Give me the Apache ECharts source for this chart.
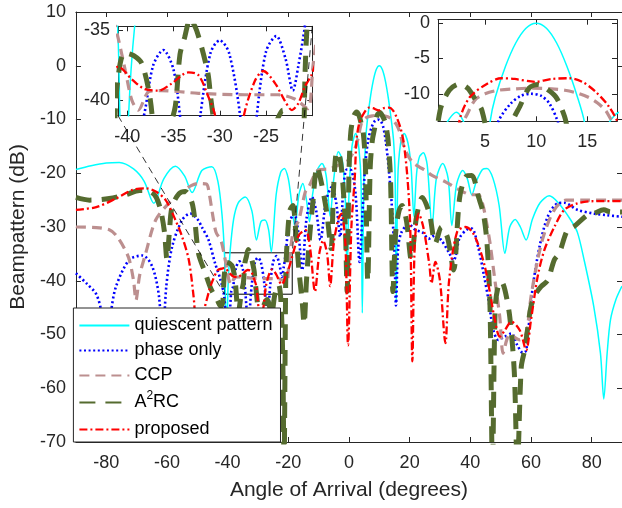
<!DOCTYPE html>
<html>
<head>
<meta charset="utf-8">
<script src="https://cdn.jsdelivr.net/npm/echarts@6/dist/echarts.min.js"></script>
<style>
html,body{margin:0;padding:0;background:#fff;}
#chart{width:622px;height:508px;}
</style>
</head>
<body>
<div id="chart"></div>
<script>
// ---------------- data ----------------
const seriesNames = ['quiescent pattern', 'phase only', 'CCP', 'A2RC', 'proposed'];
const mainXTicks = [-80, -60, -40, -20, 0, 20, 40, 60, 80];
const inset1XTicks = [-40, -35, -30, -25];
const inset1YTicks = [-40, -35];
const inset2XTicks = [5, 10, 15];
const inset2YTicks = [-10, -5, 0];

const quiescent = [[-90,-19.3],[-85,-18.6],[-80,-18.1],[-75.7,-18.0],[-71,-19.2],[-67.5,-21.5],[-64.3,-25.6],[-61,-21],[-57.2,-18.7],[-54.2,-20.5],[-51.7,-23.6],[-48.5,-19.5],[-45.2,-18.8],[-43.2,-21.5],[-41.8,-28],[-41,-35.5],[-40.8,-41],[-40.3,-52],[-39.85,-41],[-39.2,-34.7],[-38,-28.5],[-36.5,-25.5],[-34.2,-24.4],[-32,-27],[-30.5,-32.4],[-29,-29],[-27.7,-28.7],[-26.5,-30.5],[-25.6,-34.6],[-24,-24],[-22.5,-19.8],[-21.3,-19.1],[-20,-21],[-19,-25],[-17.8,-30],[-16.5,-24],[-15.2,-21.9],[-14,-25],[-13,-29],[-12,-24],[-10.5,-19.5],[-8.9,-18.2],[-7.5,-20.5],[-6.2,-28],[-5,-21],[-3.5,-16],[-2.2,-17.5],[-1.2,-25],[-0.6,-39],[0,-24],[1,-15],[2.2,-12.6],[3.3,-15.5],[4,-22],[4.4,-46],[4.9,-22],[5.5,-13.9],[6,-10.5],[7,-6.1],[8,-2.8],[9,-0.7],[10,0],[11,-0.7],[12,-2.8],[13,-6.1],[14,-10.3],[14.7,-13.9],[15.2,-20],[15.6,-44],[16.1,-21],[17,-14.5],[18.2,-12.6],[19.5,-14.5],[20.5,-19],[21.4,-28],[22.3,-20],[23.2,-17],[24.5,-16.2],[25.8,-18.5],[27.4,-30],[28.8,-21],[30.9,-18.2],[32.7,-21],[33.9,-29.7],[35.5,-22],[37.5,-19.5],[39,-21],[40.5,-24],[42,-21.5],[44,-19.3],[45.5,-19.1],[47.5,-21],[49.5,-26],[51.4,-34.9],[53,-30],[54.8,-28.6],[56.5,-30],[58.4,-32.4],[60.5,-28.5],[63,-25.5],[66,-24.2],[69,-25.5],[73.1,-28.7],[75.3,-31],[77.5,-36.1],[80.7,-44.8],[82.9,-53.5],[84,-62],[85.1,-53.5],[86.2,-47.3],[88,-43.5],[90,-41]];

const phaseOnly = [[-90,-38.6],[-86.5,-40.5],[-83.3,-42.5],[-81.5,-46],[-80,-52],[-78.5,-46],[-76.8,-41.1],[-72.4,-36.1],[-68,-35.3],[-64.8,-37.4],[-62.6,-43],[-61.5,-52],[-60.2,-41],[-58.3,-33.7],[-55,-28.7],[-52.3,-27.5],[-50,-28.5],[-48.5,-30],[-46.3,-32.4],[-44.1,-36.8],[-42.5,-39.5],[-41.1,-43],[-40,-52],[-38.8,-42],[-38.2,-41.1],[-37.2,-37.5],[-36.1,-36.4],[-35,-37.8],[-34.3,-41.1],[-33.2,-48],[-32.1,-41.1],[-31,-36.6],[-30,-35.7],[-29,-36.6],[-27.8,-41.1],[-26.9,-48],[-26,-41.1],[-25,-36.5],[-23.9,-35.4],[-22.9,-37],[-22.1,-39.3],[-21.5,-37.5],[-20.8,-34.7],[-19.8,-29.5],[-18.1,-27.5],[-16.7,-31],[-15.4,-38],[-14,-28.5],[-12.2,-24.4],[-10.8,-27],[-9.4,-32.4],[-7.5,-25],[-5.6,-22.5],[-4.2,-25.5],[-2.9,-31.8],[-1.8,-22.5],[-0.7,-19.3],[0.8,-19.5],[2.2,-24],[3.5,-36.5],[4.5,-27],[5.3,-19],[6.3,-13.9],[7.5,-11.4],[8.5,-10.3],[9.5,-10],[10.5,-10.3],[11.3,-11.4],[12.1,-13.9],[13,-18.5],[14,-25],[15,-35],[15.5,-44.6],[16.2,-34],[17.3,-31],[19.8,-29.5],[21.8,-30.5],[24.2,-31],[26.3,-32.2],[28.5,-31.5],[30.5,-32.5],[32.9,-34.7],[34.5,-36.2],[36.5,-32],[38.8,-30.5],[40.5,-30.3],[42.7,-34],[44.5,-39],[46,-43.6],[47.6,-49.2],[49.2,-51],[51,-50.5],[53.5,-49.8],[55.5,-52],[57.3,-53.4],[58.4,-53],[59.5,-47],[60.6,-41.1],[62.8,-33.7],[65.5,-28.1],[68.8,-25.6],[71,-25.5],[75.3,-26.8],[80.7,-27.5],[85,-27.8],[90,-28.1]];

const ccp = [[-90,-30],[-83.3,-30.1],[-79,-30.5],[-76.8,-31.5],[-74,-34],[-72.4,-36.1],[-71,-40],[-70.2,-43.6],[-69,-39],[-67,-34.9],[-63.7,-28.7],[-59.4,-25.6],[-55,-23.5],[-52,-22.3],[-49.6,-21.9],[-47,-22],[-46,-24],[-45,-27.5],[-43.8,-31],[-42.2,-32.5],[-41,-35.5],[-40.2,-37.9],[-39.5,-40],[-38.8,-40.7],[-37.7,-39.4],[-36.3,-39.3],[-32.3,-39.5],[-27.3,-39.6],[-23.7,-39.6],[-21.9,-39.9],[-20.5,-40.6],[-19.9,-37.4],[-18.7,-31.8],[-17.7,-30],[-16.5,-28.7],[-14.4,-23.5],[-13.2,-22.5],[-10.1,-19.4],[-6.7,-19.2],[-4.6,-18.8],[-2.4,-18.2],[-0.3,-17.6],[1.5,-16],[2.9,-13.8],[4,-10.9],[5,-10],[6.3,-9.5],[8,-9.3],[9.6,-9.2],[11.5,-9.3],[12.8,-9.5],[14,-9.9],[15.1,-10.5],[16,-11.3],[16.8,-12.4],[17.4,-13.8],[18.8,-16],[21,-18],[23.1,-18.8],[25.3,-19.5],[27.4,-20.4],[31.8,-21.6],[36.1,-23],[40.5,-24],[42.7,-24],[43.7,-25],[44.8,-27.5],[46.5,-33],[48.1,-39.9],[49.7,-46.7],[50.8,-53.5],[52,-51],[53,-49.8],[54.5,-50.5],[56.3,-51],[58.4,-49.8],[60,-43],[62.2,-36.1],[64.4,-31.2],[67.7,-26.8],[71.5,-25],[78.5,-25],[89,-25],[90,-25]];

const a2rc = [[-90,-24.5],[-85.5,-25],[-79,-24.7],[-73.5,-24],[-69,-23.2],[-65.5,-23.4],[-63.5,-24.5],[-62,-27],[-60.8,-31],[-60,-36],[-59.2,-31],[-58.3,-26.2],[-56,-23.8],[-53.9,-23.4],[-51.5,-26],[-49.6,-34.9],[-47.4,-38.5],[-45.5,-41.5],[-43.5,-43.5],[-42.2,-44.8],[-41.6,-44],[-41.1,-39],[-40.3,-36.6],[-39.3,-36.8],[-38.4,-37.4],[-37.5,-40],[-36.5,-46],[-35.4,-42],[-34.8,-40.4],[-34.3,-36.7],[-33.8,-35.5],[-33.2,-34.2],[-32.5,-35],[-31.3,-38],[-31,-39.7],[-30.2,-44],[-29.5,-50],[-28.3,-45],[-27,-43.5],[-25.5,-46],[-24.4,-42.5],[-23.2,-40.7],[-22.4,-44],[-21.8,-55],[-21.4,-75],[-21,-50],[-20.8,-38.5],[-20.4,-33],[-19.5,-27],[-18.5,-26],[-17.5,-31],[-16.5,-38],[-15.4,-44],[-14.8,-48],[-14,-40],[-13,-32],[-12,-26],[-10.5,-18.8],[-9,-22],[-7.3,-27.4],[-5.9,-34],[-5,-22],[-4,-16],[-3,-17],[-2,-22],[-1.2,-30],[-0.6,-42],[0,-20],[0.6,-12.4],[1.5,-9.5],[2.5,-8.6],[3.3,-9.2],[4,-10.7],[4.7,-12.4],[5.4,-18],[6.2,-40],[7,-19],[7.7,-13.9],[8.4,-11.8],[9.3,-9.2],[10.2,-8.7],[11,-9.3],[11.9,-10.4],[12.4,-11.8],[12.9,-13.9],[13.7,-21],[14.5,-42],[15.4,-31],[16.5,-27],[17.5,-26],[19,-29],[20.5,-36],[22.3,-28],[24.2,-24.5],[26.5,-27.5],[28.5,-33],[30.5,-30],[32.5,-32],[34.5,-38],[36.5,-24.5],[38.8,-20.5],[40.5,-20.4],[42.7,-24.4],[44.3,-27.5],[45.5,-33],[46.5,-45],[47.3,-75],[48.2,-45],[49.2,-41],[50.3,-40.2],[51.4,-41.7],[53,-46.7],[54.5,-57],[55.5,-75],[56.8,-56],[57.9,-52.9],[59,-48.5],[60,-44.8],[61.5,-42.5],[63.3,-41.1],[65.5,-39.9],[67.7,-36.1],[69.3,-34.9],[72,-30.6],[74.2,-29.9],[78.5,-27.8],[80.7,-27.5],[84,-26.8],[86.2,-27.2],[90,-27.2]];

const proposed = [[-90,-26.8],[-83.3,-26.3],[-76.8,-24.7],[-71.3,-23.1],[-67,-22.8],[-63.7,-23.4],[-60.4,-25],[-57.2,-28.7],[-55,-31.8],[-52.8,-36.1],[-51.2,-43],[-50,-50],[-48.5,-47],[-46,-41.7],[-44.9,-39.9],[-43.2,-38],[-41.6,-37.7],[-41,-37.6],[-39.5,-38.5],[-38.1,-39.2],[-36.6,-39.3],[-35.2,-38.8],[-33.4,-38],[-32.3,-38.2],[-31.2,-39.8],[-30.5,-41.1],[-29.8,-45],[-29,-47],[-28.2,-45],[-27.4,-41.1],[-26.2,-38.6],[-25.3,-37.9],[-24,-38.8],[-23,-40],[-22.2,-40.7],[-21.5,-40.2],[-20.8,-39],[-20.1,-38.2],[-18.7,-35.5],[-16.5,-31.5],[-14.3,-30.6],[-12.8,-34],[-11.2,-42],[-9.8,-35],[-8.5,-32.5],[-7.2,-35],[-6.2,-41],[-5,-33],[-3.5,-28.5],[-2.5,-27.5],[-1.2,-33],[-0.3,-52],[0.8,-30],[1.9,-21],[2.5,-13.8],[3.5,-10.5],[5.3,-8.5],[6.6,-7.8],[7.9,-7.9],[9.9,-8.3],[11.5,-7.9],[13.2,-7.8],[14.5,-8.3],[15.8,-9.7],[17.1,-11.8],[18.1,-14.5],[19.3,-21],[20.2,-30],[20.9,-55],[21.7,-33],[23,-27.5],[24.5,-30],[26.5,-37],[27.2,-40.5],[28.5,-36.5],[30,-40],[31.8,-51.6],[33,-40],[35.6,-31],[38.3,-30],[40.5,-30.8],[42.7,-33.4],[44.8,-37.4],[46.5,-42.3],[48.1,-47.3],[49.7,-50.4],[51.4,-49.2],[53.5,-47.6],[56.3,-49.2],[58.4,-52.9],[60,-47.3],[62.2,-39.2],[64.4,-34.3],[67.7,-30],[71,-26.8],[75.3,-25.6],[80.7,-25.2],[90,-25.2]];

// zoom window shown by the left inset (drawn as a box on the main axes)
const zoomBoxAngle = [-41, -18.7];
const zoomBoxDb = [-42.5, -34.8];

// ---------------- chart ----------------
const FONT = "'Liberation Sans', Arial, Helvetica, sans-serif";
const INK = '#262626';
const styles = [
  {color:'#00FFFF', width:1.5, type:'solid'},
  {color:'#0000FF', width:2.6, type:[2, 2.6], cap:'butt'},
  {color:'#BC8F8F', width:3.2, type:[10, 6], cap:'butt'},
  {color:'#556B2F', width:5, type:[16, 10], cap:'butt'},
  {color:'#FF0000', width:2.3, type:[8, 3, 2, 3], cap:'butt'}
];
const datasets = [quiescent, phaseOnly, ccp, a2rc, proposed];

function makeSeries(axisIdx, zBase) {
  return datasets.map((d, i) => ({
    name: seriesNames[i],
    type: 'line',
    xAxisIndex: axisIdx,
    yAxisIndex: axisIdx,
    data: d,
    symbol: 'none',
    showSymbol: false,
    smooth: 0.3,
    clip: true,
    silent: true,
    z: zBase + i * 0.01,
    lineStyle: styles[i],
    itemStyle: {color: styles[i].color}
  }));
}

function ax(grid, min, max, pos, ticks, opts) {
  return Object.assign({
    gridIndex: grid, type: 'value', min: min, max: max, position: pos,
    axisLine: {show: true, onZero: false, lineStyle: {color: INK, width: 1}},
    axisTick: {show: true, inside: true, length: 5, customValues: ticks, lineStyle: {color: INK}},
    axisLabel: pos === 'bottom'
      ? {show: true, customValues: ticks, fontSize: 18, color: INK, fontFamily: FONT, margin: 12}
      : {show: false},
    splitLine: {show: false}
  }, opts || {});
}

const chart = echarts.init(document.getElementById('chart'), null, {renderer: 'canvas'});

const option = {
  animation: false,
  backgroundColor: '#fff',
  grid: [
    {left: 73.4, top: 12, width: 551.6, height: 430, z: 2},
    {left: 118, top: 26.3, width: 194.3, height: 89.4, show: true, backgroundColor: '#fff', borderWidth: 0, z: 10},
    {left: 438, top: 19.7, width: 179, height: 101.6, show: true, backgroundColor: '#fff', borderWidth: 0, z: 10}
  ],
  xAxis: [
    ax(0, -90, 90, 'bottom', mainXTicks, {
      name: 'Angle of Arrival (degrees)', nameLocation: 'middle', nameGap: 38,
      nameTextStyle: {fontSize: 21, color: INK, fontFamily: FONT}
    }),
    ax(0, -90, 90, 'top', mainXTicks),
    ax(1, -41, -20, 'bottom', inset1XTicks, {z: 11}),
    ax(1, -41, -20, 'top', inset1XTicks, {z: 11}),
    ax(2, 0.4, 17.9, 'bottom', inset2XTicks, {z: 11}),
    ax(2, 0.4, 17.9, 'top', inset2XTicks, {z: 11})
  ],
  yAxis: [
    {
      gridIndex: 0, type: 'value', min: -70, max: 10, interval: 10, position: 'left',
      axisLine: {show: true, onZero: false, lineStyle: {color: INK, width: 1}},
      axisTick: {show: true, inside: true, length: 5, lineStyle: {color: INK}},
      axisLabel: {fontSize: 18, color: INK, fontFamily: FONT, margin: 10},
      splitLine: {show: false},
      name: 'Beampattern (dB)', nameLocation: 'middle', nameGap: 45, nameRotate: 90,
      nameTextStyle: {fontSize: 21, color: INK, fontFamily: FONT}
    },
    {
      gridIndex: 0, type: 'value', min: -70, max: 10, interval: 10, position: 'right',
      axisLine: {show: true, onZero: false, lineStyle: {color: INK, width: 1}},
      axisTick: {show: true, inside: true, length: 5, lineStyle: {color: INK}},
      axisLabel: {show: false}, splitLine: {show: false}
    },
    ax(1, -41.1, -34.7, 'left', inset1YTicks, {z: 11, axisLabel: {customValues: inset1YTicks, fontSize: 18, color: INK, fontFamily: FONT, margin: 8}}),
    ax(1, -41.1, -34.7, 'right', inset1YTicks, {z: 11}),
    ax(2, -13.9, 0.5, 'left', inset2YTicks, {z: 11, axisLabel: {customValues: inset2YTicks, fontSize: 18, color: INK, fontFamily: FONT, margin: 8}}),
    ax(2, -13.9, 0.5, 'right', inset2YTicks, {z: 11})
  ],
  legend: {
    data: seriesNames,
    orient: 'vertical',
    left: 73.4,
    bottom: 66,
    padding: [7, 8, 2, 5],
    itemGap: 4,
    itemWidth: 50,
    itemHeight: 14,
    backgroundColor: '#fff',
    borderColor: INK,
    borderWidth: 1,
    borderRadius: 0,
    z: 30,
    selectedMode: false,
    itemStyle: {opacity: 0},
    textStyle: {
      fontSize: 18, color: '#000', fontFamily: FONT, lineHeight: 21,
      rich: {sup: {fontSize: 12, fontFamily: FONT, color: '#000', lineHeight: 12, padding: [0, 0, 13, 0]}}
    },
    formatter: function (name) { return name === 'A2RC' ? 'A{sup|2}RC' : name; }
  },
  series: [].concat(
    makeSeries(0, 2),
    [{
      name: 'zoom box', type: 'line', xAxisIndex: 0, yAxisIndex: 0, data: [], z: 3, silent: true,
      markArea: {
        silent: true,
        itemStyle: {color: 'rgba(0,0,0,0)', borderColor: '#000', borderWidth: 1},
        data: [[{coord: [zoomBoxAngle[0], zoomBoxDb[1]]}, {coord: [zoomBoxAngle[1], zoomBoxDb[0]]}]]
      }
    }],
    makeSeries(2, 12),
    makeSeries(4, 12)
  )
};
chart.setOption(option);

// dashed connectors between the zoom box and the left inset
const px = (idx, v) => chart.convertToPixel({xAxisIndex: idx, yAxisIndex: idx}, v);
const insetBL = px(2, [-41, -41.1]);
const insetTR = px(2, [-20, -34.7]);
const boxBL = px(0, [zoomBoxAngle[0], zoomBoxDb[0]]);
const boxTR = px(0, [zoomBoxAngle[1], zoomBoxDb[1]]);
chart.setOption({
  graphic: [
    {type: 'line', z: 25, silent: true, shape: {x1: insetBL[0], y1: insetBL[1], x2: boxBL[0], y2: boxBL[1]},
     style: {stroke: '#000', lineWidth: 0.8, lineDash: [7, 5]}},
    {type: 'line', z: 25, silent: true, shape: {x1: insetTR[0], y1: insetTR[1], x2: boxTR[0], y2: boxTR[1]},
     style: {stroke: '#000', lineWidth: 0.8, lineDash: [7, 5]}}
  ]
});
</script>
</body>
</html>
